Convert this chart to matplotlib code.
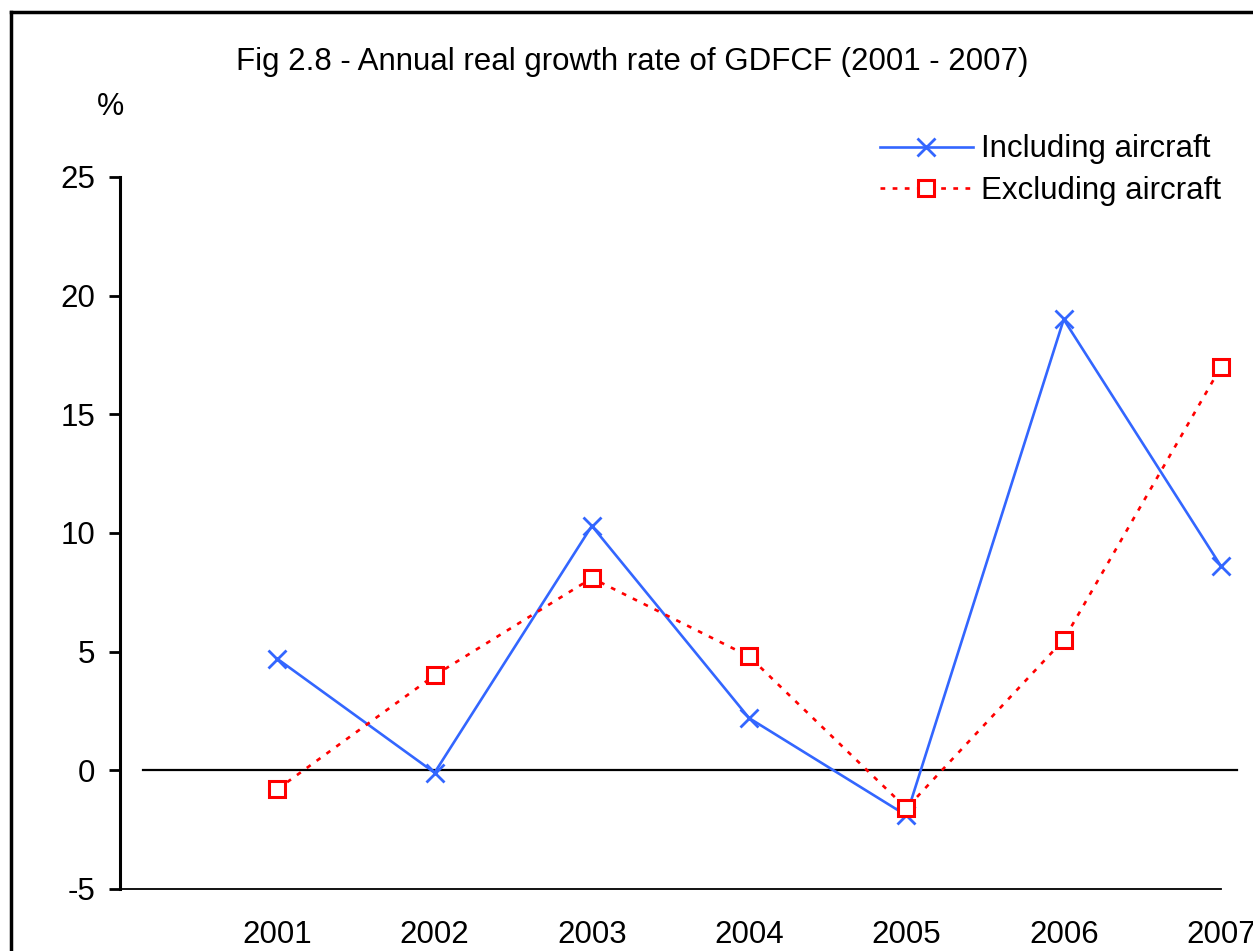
import matplotlib
matplotlib.use("Agg")
import matplotlib.pyplot as plt
from matplotlib.lines import Line2D

plt.rcParams['font.family'] = ['Liberation Sans', 'DejaVu Sans']
plt.rcParams['axes.unicode_minus'] = False

years = [2001, 2002, 2003, 2004, 2005, 2006, 2007]
incl_aircraft = [4.7, -0.1, 10.3, 2.2, -1.9, 19.0, 8.6]
excl_aircraft = [-0.8, 4.0, 8.1, 4.8, -1.6, 5.5, 17.0]
y_ticks = [-5, 0, 5, 10, 15, 20, 25]

fig = plt.figure(figsize=(12.53, 9.51), dpi=100)
ax = fig.add_axes([120 / 1253, 1 - 889 / 951, (1221 - 120) / 1253, (889 - 177) / 951])

# outer frame (only left and top edges are visible in the crop)
fig.add_artist(Line2D([11 / 1253, 11 / 1253], [0, 1 - 12 / 951], color='black', lw=2.5))
fig.add_artist(Line2D([11 / 1253, 1], [1 - 12 / 951, 1 - 12 / 951], color='black', lw=2.5))

# zero line
ax.plot([2000.146, 2007.1], [0, 0], color='black', lw=1.6, clip_on=False, zorder=1)

ax.plot(years, incl_aircraft, color='#3366FF', lw=1.9, marker='x', markersize=13,
        markeredgewidth=2, label='Including aircraft', clip_on=False, zorder=3)
ax.plot(years, excl_aircraft, color='#FF0000', lw=1.9, linestyle=(0, (1.8, 2.8)), marker='s',
        markersize=12, markerfacecolor='white', markeredgecolor='#FF0000', markeredgewidth=2.2,
        label='Excluding aircraft', clip_on=False, zorder=4)

ax.set_xlim(2000, 2007)
ax.set_ylim(-5, 25)
ax.set_yticks(y_ticks)
ax.set_xticks(years)
ax.set_xticklabels([str(y) for y in years])

for s in ['top', 'right']:
    ax.spines[s].set_visible(False)
ax.spines['left'].set_linewidth(2.2)
ax.spines['bottom'].set_linewidth(1.3)
ax.tick_params(axis='y', direction='out', length=8, width=2, labelsize=22.5, pad=10)
ax.tick_params(axis='x', length=0, labelsize=22.5, pad=22)

fig.text(632 / 1253, 1 - 62 / 951, 'Fig 2.8 - Annual real growth rate of GDFCF (2001 - 2007)',
         ha='center', va='center', fontsize=22.5)
fig.text(110 / 1253, 1 - 107 / 951, '%', ha='center', va='center', fontsize=22)

leg = ax.legend(loc='upper left', bbox_to_anchor=(867 / 1253, 1 - 122 / 951),
                bbox_transform=fig.transFigure, frameon=False, fontsize=22.5,
                handlelength=3.0, handletextpad=0.25, labelspacing=0.38, borderaxespad=0)

fig.savefig('out.png', dpi=100)
